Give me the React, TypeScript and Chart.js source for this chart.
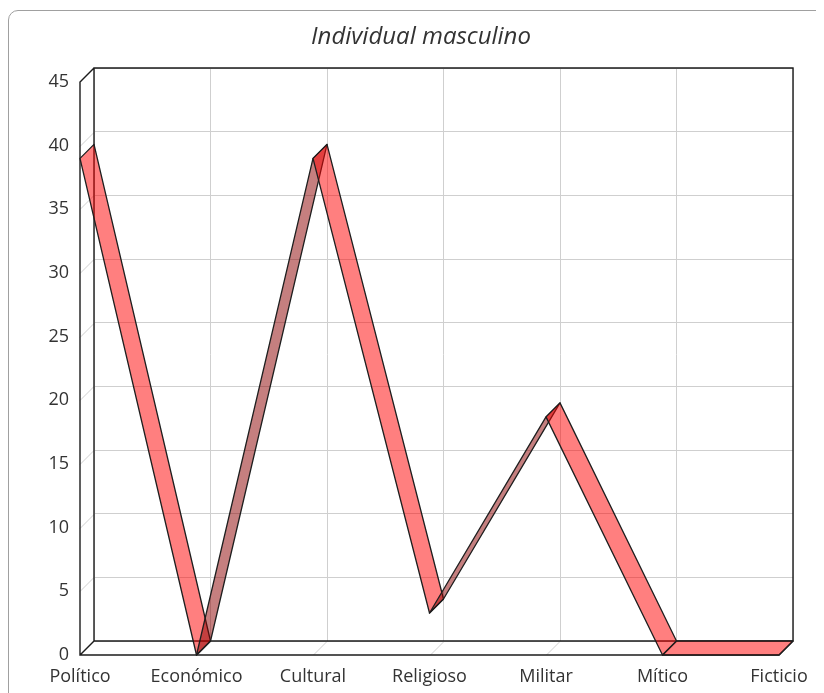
import React, { useEffect, useRef } from "react";
import { Chart, registerables } from "chart.js";

Chart.register(...registerables);

const TITLE = "Individual masculino";
const categories = ["Político", "Económico", "Cultural", "Religioso", "Militar", "Mítico", "Ficticio"];
const values = [39, 0, 39, 3.3, 18.7, 0, 0];
const yMin = 0;
const yMax = 45;
const yStep = 5;

const DEPTH = 14;
const LIGHT = "rgba(255,0,0,0.5)";
const DARK = "rgba(140,0,0,0.5)";

const box3d = {
  id: "box3d",
  beforeDatasetsDraw(chart: any) {
    const { ctx, chartArea, scales } = chart;
    const { left, right, top, bottom } = chartArea;
    const x = scales.x;
    const y = scales.y;
    const D = DEPTH;
    ctx.save();
    ctx.lineWidth = 1;
    ctx.strokeStyle = "#cfcfcf";
    ctx.beginPath();
    y.ticks.forEach((t: any) => {
      const py = Math.round(y.getPixelForValue(t.value)) + 0.5;
      ctx.moveTo(left, py);
      ctx.lineTo(left - D, py + D);
    });
    x.ticks.forEach((_t: any, i: number) => {
      const px = Math.round(x.getPixelForTick(i)) + 0.5;
      ctx.moveTo(px, bottom);
      ctx.lineTo(px - D, bottom + D);
    });
    ctx.stroke();

    ctx.strokeStyle = "#1c1c1c";
    ctx.lineWidth = 1.4;
    ctx.beginPath();
    ctx.rect(left, top, right - left, bottom - top);
    ctx.moveTo(left, top);
    ctx.lineTo(left - D, top + D);
    ctx.lineTo(left - D, bottom + D);
    ctx.lineTo(right - D, bottom + D);
    ctx.lineTo(right, bottom);
    ctx.moveTo(left, bottom);
    ctx.lineTo(left - D, bottom + D);
    ctx.stroke();
    ctx.restore();
  },
  afterDatasetsDraw(chart: any) {
    const { ctx } = chart;
    const pts = chart.getDatasetMeta(0).data;
    const D = DEPTH;
    ctx.save();
    ctx.lineJoin = "round";
    for (let i = 0; i < pts.length - 1; i++) {
      const a = pts[i];
      const b = pts[i + 1];
      ctx.beginPath();
      ctx.moveTo(a.x, a.y);
      ctx.lineTo(b.x, b.y);
      ctx.lineTo(b.x - D, b.y + D);
      ctx.lineTo(a.x - D, a.y + D);
      ctx.closePath();
      ctx.fillStyle = b.y < a.y - 0.5 ? DARK : LIGHT;
      ctx.fill();
      ctx.strokeStyle = "#1e1e1e";
      ctx.lineWidth = 1.3;
      ctx.stroke();
    }
    ctx.restore();
  },
};

export default function App() {
  const ref = useRef<HTMLCanvasElement | null>(null);
  useEffect(() => {
    if (!ref.current) return;
    const chart = new Chart(ref.current, {
      type: "line",
      data: {
        labels: categories,
        datasets: [
          {
            data: values,
            showLine: false,
            pointRadius: 0,
            borderWidth: 0,
          },
        ],
      },
      options: {
        responsive: false,
        animation: false,
        events: [],
        layout: { padding: { top: 0, right: 0, bottom: 0, left: 9 } },
        plugins: {
          legend: { display: false },
          tooltip: { enabled: false },
          title: {
            display: true,
            text: TITLE,
            color: "#333",
            font: { family: "'Open Sans'", size: 24, style: "italic", weight: "normal" },
            padding: { top: 11.6, bottom: 16.6 },
          },
        },
        scales: {
          x: {
            type: "category",
            offset: false,
            grid: { color: "#cfcfcf", drawTicks: false },
            border: { display: false },
            ticks: {
              color: "#333",
              font: { family: "'Open Sans'", size: 18 },
              padding: 25,
              labelOffset: -DEPTH,
              maxRotation: 0,
              autoSkip: false,
            },
            afterFit: (s: any) => {
              s.height = 52;
              s.paddingLeft = 0;
              s.paddingRight = 31;
            },
          },
          y: {
            min: yMin,
            max: yMax,
            grid: { color: "#cfcfcf", drawTicks: false },
            border: { display: false },
            ticks: {
              stepSize: yStep,
              color: "#333",
              font: { family: "'Open Sans'", size: 18 },
              padding: 25,
              labelOffset: DEPTH,
            },
            afterFit: (s: any) => {
              s.width = 76;
              s.paddingTop = 0;
              s.paddingBottom = 0;
            },
          },
        },
      },
      plugins: [box3d],
    });
    return () => chart.destroy();
  }, []);
  return (
    <div style={{ width: 816, height: 685, overflow: "hidden", paddingTop: 2, boxSizing: "border-box" }}>
      <div
        style={{
          width: 840,
          height: 720,
          border: "1px solid #a0a0a0",
          borderRadius: 10,
          position: "relative",
          boxSizing: "border-box",
        }}
      >
        <canvas ref={ref} width={815} height={682} style={{ position: "absolute", left: 0, top: 0 }} />
      </div>
    </div>
  );
}
